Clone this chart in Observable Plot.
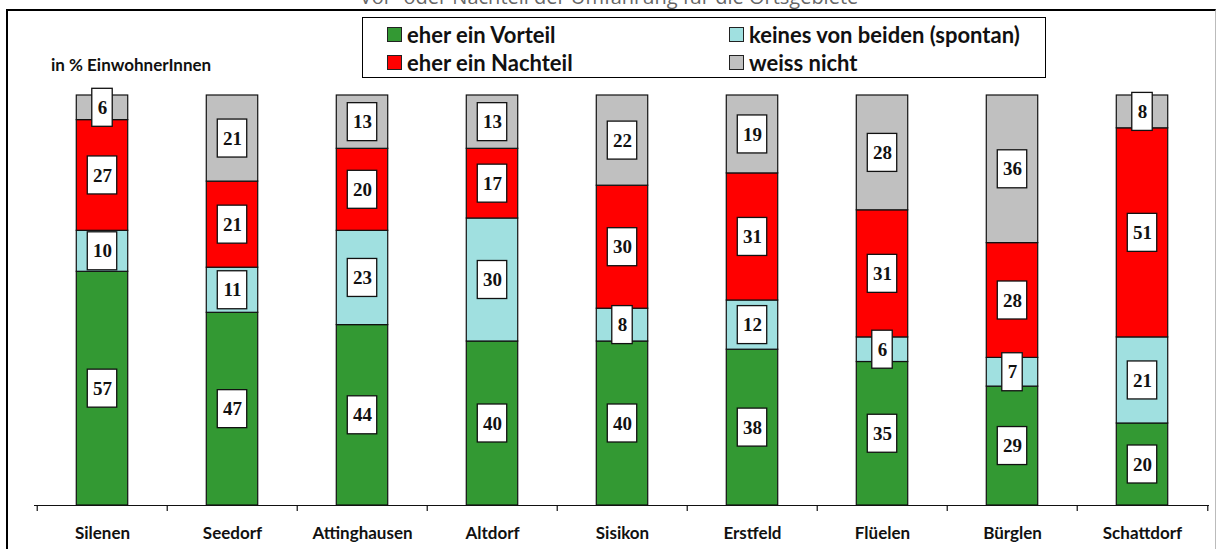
<!DOCTYPE html>
<html>
<head>
<meta charset="utf-8">
<script src="https://cdn.jsdelivr.net/npm/d3@7"></script>
<script src="https://cdn.jsdelivr.net/npm/@observablehq/plot@0.6"></script>
<style>
  html, body { margin: 0; padding: 0; width: 1218px; height: 549px; overflow: hidden; background: #fff; }
  #title { position: absolute; top: -17px; left: 0; width: 1218px; text-align: center;
           font-family: "Open Sans", sans-serif; font-size: 20px; color: #666; }
  #frame { position: absolute; left: 6px; top: 9px; width: 1207px; height: 560px;
           border-top: 2px solid #000; border-left: 2px solid #000; border-right: 1px solid #bbb; background: #fff; }
  #chart { position: absolute; left: 0; top: 0; }
  #unit { position: absolute; left: 51px; top: 54px; font-family: Lato, sans-serif; font-weight: bold;
          font-size: 17px; color: #111; }
  #legend { position: absolute; left: 362px; top: 17px; width: 682px; height: 59px;
            border: 1.5px solid #000; background: #fff; font-family: Lato, sans-serif; font-weight: bold;
            font-size: 22px; color: #111; }
  .item { position: absolute; display: flex; align-items: center; white-space: nowrap; }
  .sw { width: 13px; height: 13px; border: 1px solid #222; margin-right: 5px; }
</style>
</head>
<body>
<div id="title">Vor- oder Nachteil der Umfahrung für die Ortsgebiete</div>
<div id="frame"></div>
<div id="chart"></div>
<div id="unit">in % EinwohnerInnen</div>
<div id="legend"></div>
<script>
// ---- data ----
const towns = ["Silenen", "Seedorf", "Attinghausen", "Altdorf", "Sisikon", "Erstfeld", "Flüelen", "Bürglen", "Schattdorf"];
const responses = ["eher ein Vorteil", "keines von beiden (spontan)", "eher ein Nachteil", "weiss nicht"];
const vorteil  = [57, 47, 44, 40, 40, 38, 35, 29, 20];
const keines   = [10, 11, 23, 30,  8, 12,  6,  7, 21];
const nachteil = [27, 21, 20, 17, 30, 31, 31, 28, 51];
const weiss    = [ 6, 21, 13, 13, 22, 19, 28, 36,  8];
const colors   = ["#339933", "#a0e0e0", "#ff0000", "#c0c0c0"];

const series = [vorteil, keines, nachteil, weiss];
const data = [];
towns.forEach((t, i) => {
  let base = 0;
  series.forEach((s, k) => {
    data.push({town: t, response: responses[k], value: s[i], mid: base + s[i] / 2});
    base += s[i];
  });
});

// ---- layout ----
const W = 1218, H = 549;
const mL = 34, mR = 9, mT = 95, mB = 44;
const step = (W - mL - mR) / towns.length;
const barW = 52;
const boxH = 38 * 100 / (H - mT - mB) / 2; // half box height in % units
const inset = (step - barW) / 2;

const boxMark = (filter, w) => Plot.barY(data.filter(filter), {
  x: "town", y1: d => d.mid - boxH, y2: d => d.mid + boxH,
  fill: "white", stroke: "#111", strokeWidth: 1.3,
  insetLeft: (step - w) / 2, insetRight: (step - w) / 2
});

const chart = Plot.plot({
  width: W, height: H,
  marginLeft: mL, marginRight: mR, marginTop: mT, marginBottom: mB,
  style: {background: "transparent", overflow: "visible"},
  x: {domain: towns, padding: 0, axis: null, label: null},
  y: {domain: [0, 100], axis: null, label: null},
  color: {domain: responses, range: colors},
  marks: [
    Plot.barY(data, {x: "town", y: "value", fill: "response", z: "response", order: responses,
      stroke: "#111", strokeWidth: 1.2, insetLeft: inset, insetRight: inset}),
    boxMark(d => d.value < 10, 21),
    boxMark(d => d.value >= 10, 30),
    Plot.text(data, {x: "town", y: "mid", text: d => String(d.value),
      fontFamily: "Liberation Serif", fontWeight: "bold", fontSize: 19, fill: "#111"}),
    Plot.ruleY([0], {stroke: "#111", strokeWidth: 1.2}),
    Plot.axisX({tickSize: 6, tickFormat: () => "", label: null, dx: -step / 2, stroke: "#111", strokeWidth: 1.2}),
    Plot.axisX({ticks: [towns[towns.length - 1]], tickSize: 6, tickFormat: () => "", label: null, dx: step / 2, stroke: "#111", strokeWidth: 1.2}),
    Plot.axisX({tickSize: 0, tickPadding: 21, label: null, fontFamily: "Lato", fontWeight: "bold", fontSize: 17, fill: "#111"})
  ]
});
document.getElementById("chart").appendChild(chart);

// ---- legend ----
const legend = document.getElementById("legend");
const pos = [[24, 3], [366, 3], [24, 31], [366, 31]];
[0, 1, 2, 3].forEach((k, j) => {
  const it = document.createElement("div");
  it.className = "item";
  it.style.left = pos[j][0] + "px";
  it.style.top = pos[j][1] + "px";
  const sw = document.createElement("div");
  sw.className = "sw";
  sw.style.background = colors[k];
  const tx = document.createElement("span");
  tx.textContent = responses[k];
  it.appendChild(sw); it.appendChild(tx);
  legend.appendChild(it);
});
</script>
</body>
</html>
